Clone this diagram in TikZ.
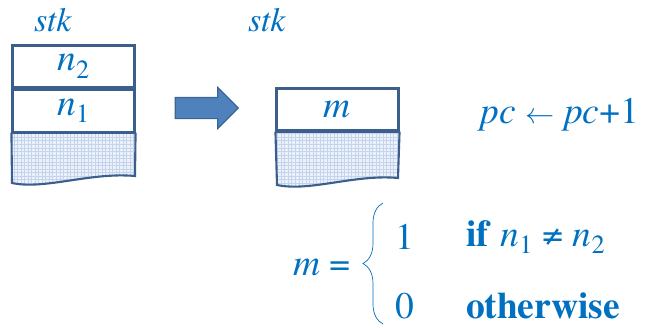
\documentclass[tikz,border=0pt]{standalone}
\usepackage{fontspec}
\setmainfont{texgyretermes}[
  Extension=.otf,
  UprightFont=*-regular,
  ItalicFont=*-italic,
  BoldFont=*-bold,
  BoldItalicFont=*-bolditalic]
\usepackage{tikz}
\usetikzlibrary{
  positioning,
  shapes.arrows,
  patterns,
  decorations.pathreplacing,
}
\definecolor{txtblue}{RGB}{0,112,192}
\definecolor{boxline}{RGB}{60,94,140}
\definecolor{arrfill}{RGB}{79,129,189}
\definecolor{arrline}{RGB}{58,101,149}
\definecolor{hatchbg}{RGB}{236,241,250}
\definecolor{hatchln}{RGB}{196,212,236}

\begin{document}
\begin{tikzpicture}[
  x=0.03cm, y=-0.03cm,
  every node/.style={text=txtblue, font=\fontsize{32}{36}\selectfont},
  label/.style={font=\fontsize{29}{32}\selectfont},
  cell/.style={draw=boxline, line width=1.8pt, fill=white,
               minimum width=3.66cm, minimum height=1.26cm,
               inner sep=0pt},
  hatch/.style={fill=hatchbg, postaction={pattern=grid, pattern color=hatchln}},
  edge/.style={draw=boxline, line width=1.8pt},
  sep/.style={draw=boxline, line width=2.6pt},
  bigarrow/.style={single arrow, draw=arrline, fill=arrfill, line width=1pt,
                   minimum height=1.89cm, inner sep=0.3cm,
                   single arrow head extend=0.3cm, single arrow tip angle=90,
                   single arrow head indent=0pt},
]
\useasboundingbox (0,0) rectangle (649,327);

% left stack
\node[cell] (n2) at (73.5,66.5) {\textit{n}\textsubscript{2}};
\node[cell, below=0pt of n2] (n1) {\textit{n}\textsubscript{1}};
\path[hatch] (n1.south west) -- (12,183)
  .. controls (45,190) and (90,172) .. (135,176) -- (n1.south east) -- cycle;
\draw[edge] (n1.south west) -- (12,183)
  .. controls (45,190) and (90,172) .. (135,176) -- (n1.south east);
\draw[sep] (n1.south west) -- (n1.south east);
\node[label] (stkL) at (53,20) {\textit{stk}};

% arrow
\node[bigarrow] (go) at (201.5,108) {};

% right stack
\node[cell] (m) at (337.5,109.5) {\textit{m}};
\path[hatch] (m.south west) -- (277,185)
  .. controls (310,192) and (355,174) .. (398,178) -- (m.south east) -- cycle;
\draw[edge] (m.south west) -- (277,185)
  .. controls (310,192) and (355,174) .. (398,178) -- (m.south east);
\draw[sep] (m.south west) -- (m.south east);
\node[label] (stkR) at (267,20) {\textit{stk}};

\node (pc) at (560,115) {\textit{pc} $\leftarrow$ \textit{pc}+1};

% definition of m
\node[anchor=east] (meq) at (355,267) {\textit{m} =};
\coordinate (btop) at (383,203);
\coordinate (bbot) at (383,324);
\draw[txtblue, line width=0.6pt, decorate,
      decoration={brace, amplitude=0.6cm}] (bbot) -- (btop);
\node (one) at (405,237) {1};
\node[anchor=west] (cond) at (462,237) {\textbf{if} \textit{n}\textsubscript{1} ≠ \textit{n}\textsubscript{2}};
\node (zero) at (405,306) {0};
\node[anchor=west] (other) at (462,306) {\textbf{otherwise}};
\end{tikzpicture}
\end{document}
